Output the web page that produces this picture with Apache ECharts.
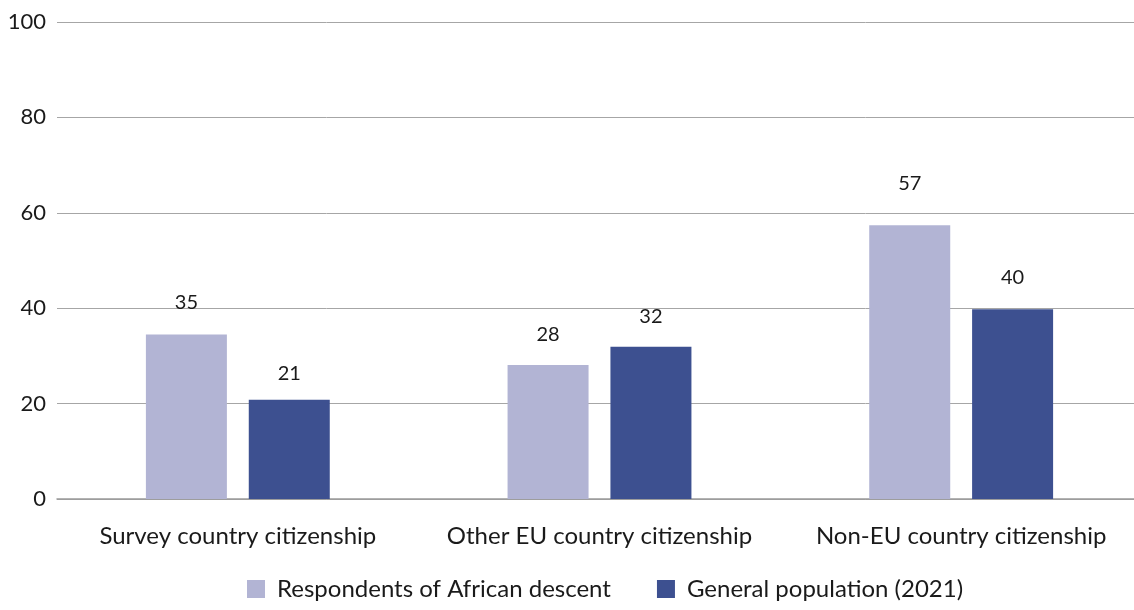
<!DOCTYPE html>
<html>
<head>
<meta charset="utf-8">
<script src="https://cdn.jsdelivr.net/npm/echarts@6/dist/echarts.min.js"></script>
<style>
    html, body { margin: 0; padding: 0; background: #fff; }
    #chart { width: 1134px; height: 610px; }
</style>
</head>
<body>
<div id="chart"></div>
<script>
const categories = ['Survey country citizenship', 'Other EU country citizenship', 'Non-EU country citizenship']
const seriesNames = ['Respondents of African descent', 'General population (2021)']
const africanDescent = [34.5, 28.1, 57.4]
const generalPopulation = [20.8, 31.9, 39.8]
const valueLabelsAfrican = ['35', '28', '57']
const valueLabelsGeneral = ['21', '32', '40']

const font = 'Lato, "Noto Sans", sans-serif'
const textColor = '#1a1a1a'

// label gaps above bars differ a little in the source
const gapsAfrican = [22, 20, 32]
const gapsGeneral = [16, 20, 22]

const chart = echarts.init(document.getElementById('chart'))

const makeData = (values, labels, gaps) => values.map((v, i) => ({
    value: v,
    label: {
        show: true,
        position: 'top',
        distance: gaps[i],
        fontFamily: font,
        fontSize: 20,
        color: textColor,
        formatter: labels[i]
    }
}))

const option = {
    animation: false,
    grid: { left: 57, width: 1085, top: 22, bottom: 111, outerBoundsMode: 'none', containLabel: false },
    legend: {
        bottom: 4,
        left: 242,
        itemWidth: 18,
        itemHeight: 18,
        itemGap: 46,
        icon: 'rect',
        textStyle: { fontFamily: font, fontSize: 24, color: textColor, padding: [0, 0, 0, 7] },
        data: seriesNames
    },
    xAxis: {
        type: 'category',
        data: categories,
        axisLine: { lineStyle: { color: '#9a9a9a', width: 1.5 } },
        axisTick: { show: false },
        axisLabel: { fontFamily: font, fontSize: 24, color: textColor, margin: 25, interval: 0 }
    },
    yAxis: {
        type: 'value',
        min: 0,
        max: 100,
        interval: 20,
        axisLine: { show: false },
        axisTick: { show: false },
        splitLine: { lineStyle: { color: '#a6a6a6', width: 1 } },
        axisLabel: { fontFamily: font, fontSize: 22, color: textColor, margin: 11 }
    },
    series: [
        {
            name: seriesNames[0],
            type: 'bar',
            data: makeData(africanDescent, valueLabelsAfrican, gapsAfrican),
            barWidth: 81,
            barGap: '27%',
            itemStyle: { color: '#b2b4d4' }
        },
        {
            name: seriesNames[1],
            type: 'bar',
            data: makeData(generalPopulation, valueLabelsGeneral, gapsGeneral),
            barWidth: 81,
            itemStyle: { color: '#3d5090' }
        }
    ]
}

chart.setOption(option)
</script>
</body>
</html>
